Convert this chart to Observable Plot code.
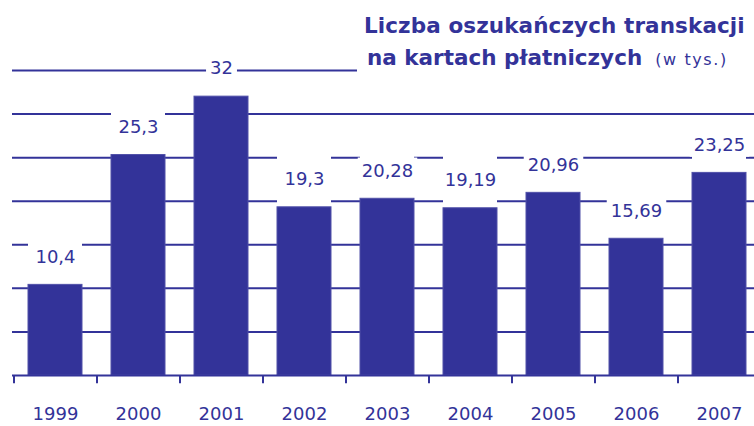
<!DOCTYPE html>
<html>
<head>
<meta charset="utf-8">
<script src="https://cdn.jsdelivr.net/npm/d3@7"></script>
<script src="https://cdn.jsdelivr.net/npm/@observablehq/plot@0.6"></script>
<style>
  html, body { margin: 0; padding: 0; background: #fff; }
  #wrap { position: relative; width: 754px; height: 426px; overflow: hidden; font-family: "DejaVu Sans", sans-serif; color: #333399; }
  #title { position: absolute; left: 357px; top: 0; width: 397px; height: 77px; background: #fff; }
  #t1 { position: absolute; left: 7px; top: 13px; font-weight: bold; font-size: 21.5px; white-space: nowrap; letter-spacing: 0.1px; }
  #t2 { position: absolute; left: 10px; top: 45px; font-weight: bold; font-size: 21.5px; white-space: nowrap; }
  #t2 span { font-weight: normal; font-size: 16px; letter-spacing: 1.6px; margin-left: 13px; }
</style>
</head>
<body>
<div id="wrap">
  <div id="chart"></div>
  <div id="title">
    <div id="t1">Liczba oszukańczych transkacji</div>
    <div id="t2">na kartach płatniczych<span>(w tys.)</span></div>
  </div>
</div>
<script>
const years = ["1999", "2000", "2001", "2002", "2003", "2004", "2005", "2006", "2007"];
const values = [10.4, 25.3, 32, 19.3, 20.28, 19.19, 20.96, 15.69, 23.25];
const labels = ["10,4", "25,3", "32", "19,3", "20,28", "19,19", "20,96", "15,69", "23,25"];
const gridValues = [5, 10, 15, 20, 25, 30];
const topGrid = [35];

const navy = "#333399";
const data = years.map((y, i) => ({year: y, value: values[i], label: labels[i]}));

const plot = Plot.plot({
  width: 754,
  height: 426,
  marginLeft: 12,
  marginRight: 0,
  marginTop: 0,
  marginBottom: 51,
  style: {fontFamily: "DejaVu Sans, sans-serif", fontSize: "18px", color: navy, background: "#fff"},
  x: {domain: years, range: [13, 760], paddingInner: 0.35, paddingOuter: 0.175, align: 0.5, label: null},
  y: {domain: [0, 35], range: [375, 70], axis: null},
  marks: [
    Plot.ruleY(gridValues, {stroke: navy, strokeWidth: 2}),
    // white column above each bar where its label sits (interrupts the gridlines)
    Plot.barY(data, {x: "year", y1: "value", y2: "value", insetTop: -53, fill: "#fff"}),
    Plot.barY(data, {x: "year", y: "value", fill: navy, stroke: "#5050a8", strokeWidth: 1}),
    Plot.ruleY(topGrid, {stroke: navy, strokeWidth: 2}),
    Plot.ruleY([0], {stroke: navy, strokeWidth: 2}),
    Plot.ruleX(years, {x: d => d, y1: 0, y2: -0.95, dx: -41.5, stroke: navy, strokeWidth: 2}),
    Plot.text(data, {x: "year", y: "value", text: "label", dy: -28, lineAnchor: "middle", fill: navy, fontSize: 18}),
    Plot.axisX({tickSize: 0, tickPadding: 32, fontSize: 18, fill: navy, label: null})
  ]
});
document.getElementById("chart").appendChild(plot);

// white boxes behind the value labels
d3.select(plot).selectAll("text").filter(function() {
  return labels.includes(this.textContent);
}).each(function() {
  const b = this.getBBox();
  const padX = 4, padY = 2;
  const r = document.createElementNS("http://www.w3.org/2000/svg", "rect");
  r.setAttribute("x", b.x - padX);
  r.setAttribute("y", b.y - padY);
  r.setAttribute("width", b.width + 2 * padX);
  r.setAttribute("height", b.height + 2 * padY);
  r.setAttribute("fill", "#fff");
  const tr = this.getAttribute("transform");
  if (tr) r.setAttribute("transform", tr);
  this.parentNode.insertBefore(r, this);
});
</script>
</body>
</html>
